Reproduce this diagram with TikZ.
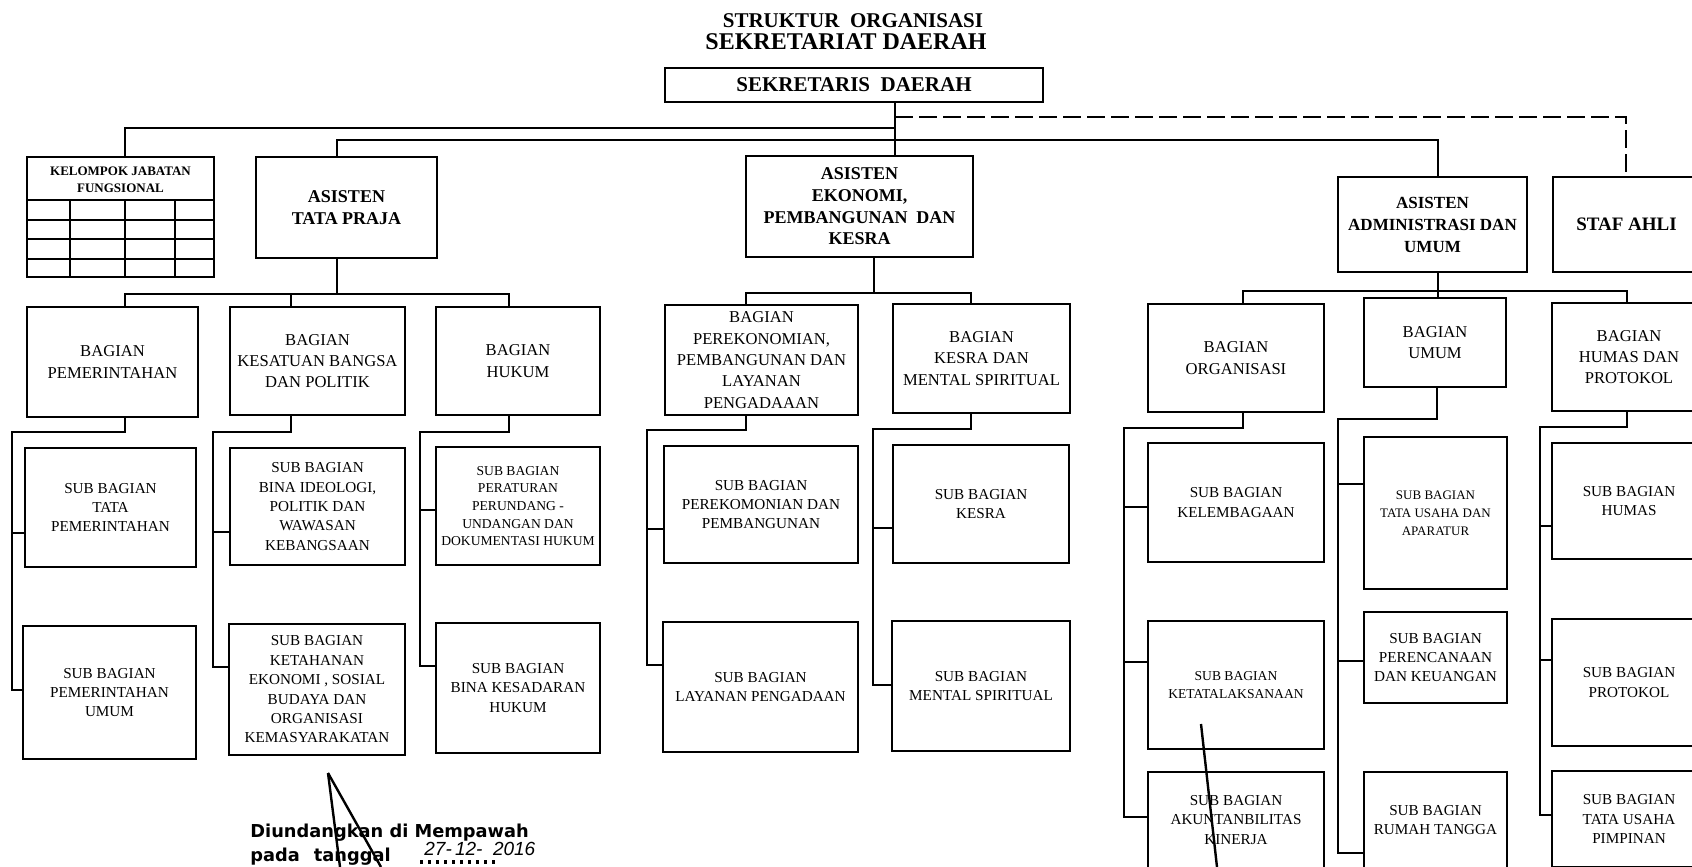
\documentclass[tikz,border=0pt]{standalone}
\usepackage{fontspec}
\setmainfont{Liberation Serif}
\newfontfamily\annfont{DejaVu Sans}
\newfontfamily\handfont{Liberation Sans}
\tikzset{
 ln/.style={line width=1.1pt},
 bx/.style={draw, line width=1.1pt, inner sep=0pt, outer sep=0pt, align=center},
 ast/.style={bx, font=\bfseries\fontsize{9}{10.8}\selectfont},
 bag/.style={bx, font=\fontsize{8.3}{10.7}\selectfont},
 sub/.style={bx, font=\fontsize{7.6}{9.7}\selectfont},
 subs/.style={bx, font=\fontsize{6.8}{8.8}\selectfont},
 ttl/.style={inner sep=0pt, font=\bfseries},
 ann/.style={inner sep=0pt, font=\annfont\bfseries\fontsize{8.9}{10}\selectfont},
 pen/.style={line width=1.2pt},
}
\newcommand\mybox[7]{\node[#6, minimum width=#4*0.5pt, minimum height=#5*0.5pt] (#1) at (#2,#3) {#7};}
\begin{document}
\begin{tikzpicture}[x=0.5pt,y=-0.5pt]
\useasboundingbox (0,0) rectangle (1692,867);
\fill[white] (0,0) rectangle (1692,867);

% titles
\node[ttl, font=\bfseries\fontsize{10.5}{12}\selectfont] (t1) at (853,21) {STRUKTUR\ \ ORGANISASI};
\node[ttl, font=\bfseries\fontsize{12}{14}\selectfont] (t2) at (846,42) {SEKRETARIAT DAERAH};

% top level
\mybox{sekda}{854}{85}{378}{34}{bx, font=\bfseries\fontsize{10.5}{12}\selectfont}{SEKRETARIS\ \ DAERAH}
\mybox{kjf}{120.5}{217}{187}{120}{bx}{}
\node[inner sep=0pt, align=center, font=\bfseries\fontsize{6.5}{8.5}\selectfont] (kjfT) at (120.5,180) {KELOMPOK JABATAN\\FUNGSIONAL};
\mybox{tp}{346.5}{207.5}{181}{101}{ast}{ASISTEN\\TATA PRAJA}
\mybox{eko}{859.5}{206.5}{227}{101}{ast}{ASISTEN\\EKONOMI,\\PEMBANGUNAN\ \ DAN\\KESRA}
\mybox{adm}{1432.5}{224.5}{189}{95}{bx, font=\bfseries\fontsize{8.5}{11}\selectfont}{ASISTEN\\ADMINISTRASI DAN\\UMUM}
\mybox{staf}{1626.5}{224.5}{147}{95}{bx, font=\bfseries\fontsize{9.5}{11}\selectfont}{STAF AHLI}

% kelompok grid
\draw[ln] (kjf.west |- 0,200) -- (kjf.east |- 0,200);
\draw[ln] (kjf.west |- 0,220) -- (kjf.east |- 0,220);
\draw[ln] (kjf.west |- 0,239) -- (kjf.east |- 0,239);
\draw[ln] (kjf.west |- 0,259) -- (kjf.east |- 0,259);
\draw[ln] (70,200) -- (70,0 |- kjf.south);
\draw[ln] (125,200) -- (125,0 |- kjf.south);
\draw[ln] (175,200) -- (175,0 |- kjf.south);

% bagian row
\mybox{bpem}{112.5}{362}{171}{110}{bag}{BAGIAN\\PEMERINTAHAN}
\mybox{bkes}{317.5}{361}{175}{108}{bag}{BAGIAN\\KESATUAN BANGSA\\DAN POLITIK}
\mybox{bhuk}{518}{361}{164}{108}{bag}{BAGIAN\\HUKUM}
\mybox{bper}{761.5}{360}{193}{110}{bag}{BAGIAN\\PEREKONOMIAN,\\PEMBANGUNAN DAN\\LAYANAN\\PENGADAAAN}
\mybox{bkesra}{981.5}{358.5}{177}{109}{bag}{BAGIAN\\KESRA DAN\\MENTAL SPIRITUAL}
\mybox{borg}{1236}{358}{176}{108}{bag}{BAGIAN\\ORGANISASI}
\mybox{bumum}{1435}{342.5}{142}{89}{bag}{BAGIAN\\UMUM}
\mybox{bhumas}{1629}{357}{154}{108}{bag}{BAGIAN\\HUMAS DAN\\PROTOKOL}

% sub bagian
\mybox{s1a}{110.5}{507.5}{171}{119}{sub}{SUB BAGIAN\\TATA\\PEMERINTAHAN}
\mybox{s1b}{109.5}{692.5}{173}{133}{sub}{SUB BAGIAN\\PEMERINTAHAN\\UMUM}
\mybox{s2a}{317.5}{506.5}{175}{117}{sub}{SUB BAGIAN\\BINA IDEOLOGI,\\POLITIK DAN\\WAWASAN\\KEBANGSAAN}
\mybox{s2b}{317}{689.5}{176}{131}{sub}{SUB BAGIAN\\KETAHANAN\\EKONOMI , SOSIAL\\BUDAYA DAN\\ORGANISASI\\KEMASYARAKATAN}
\mybox{s3a}{518}{506}{164}{118}{subs}{SUB BAGIAN\\PERATURAN\\PERUNDANG -\\UNDANGAN DAN\\DOKUMENTASI HUKUM}
\mybox{s3b}{518}{688}{164}{130}{sub}{SUB BAGIAN\\BINA KESADARAN\\HUKUM}
\mybox{s4a}{761}{504.5}{194}{117}{sub}{SUB BAGIAN\\PEREKOMONIAN DAN\\PEMBANGUNAN}
\mybox{s4b}{760.5}{687}{195}{130}{sub}{SUB BAGIAN\\LAYANAN PENGADAAN}
\mybox{s5a}{981}{504}{176}{118}{sub}{SUB BAGIAN\\KESRA}
\mybox{s5b}{981}{686}{178}{130}{sub}{SUB BAGIAN\\MENTAL SPIRITUAL}
\mybox{s6a}{1236}{502.5}{176}{119}{sub}{SUB BAGIAN\\KELEMBAGAAN}
\mybox{s6b}{1236}{685}{176}{128}{subs}{SUB BAGIAN\\KETATALAKSANAAN}
\mybox{s6c}{1236}{820}{176}{96}{sub}{SUB BAGIAN\\AKUNTANBILITAS\\KINERJA}
\mybox{s7a}{1435.5}{513}{143}{152}{bx, font=\fontsize{6.5}{9}\selectfont}{SUB BAGIAN\\TATA USAHA DAN\\APARATUR}
\mybox{s7b}{1435.5}{657.5}{143}{91}{sub}{SUB BAGIAN\\PERENCANAAN\\DAN KEUANGAN}
\mybox{s7c}{1435.5}{820}{143}{96}{sub}{SUB BAGIAN\\RUMAH TANGGA}
\mybox{s8a}{1629}{501}{154}{116}{sub}{SUB BAGIAN\\HUMAS}
\mybox{s8b}{1629}{682.5}{154}{127}{sub}{SUB BAGIAN\\PROTOKOL}
\mybox{s8c}{1629}{819}{154}{96}{sub}{SUB BAGIAN\\TATA USAHA\\PIMPINAN}

% top connectors
\draw[ln] (895,0 |- sekda.south) -- (895,0 |- eko.north);
\draw[ln] (895,128) -- (125,128) -- (125,0 |- kjf.north);
\draw[ln] (337,0 |- tp.north) |- (1438,140) -- (1438,0 |- adm.north);
\draw[ln, dash pattern=on 9pt off 3pt] (895,117) -| (1626,0 |- staf.north);

% asisten -> bagian
\draw[ln] (337,0 |- tp.south) -- (337,294);
\draw[ln] (125,0 |- bpem.north) |- (509,294) -- (509,0 |- bhuk.north);
\draw[ln] (291,294) -- (291,0 |- bkes.north);
\draw[ln] (874,0 |- eko.south) -- (874,293);
\draw[ln] (746,0 |- bper.north) |- (971,293) -- (971,0 |- bkesra.north);
\draw[ln] (1438,0 |- adm.south) -- (1438,0 |- bumum.north);
\draw[ln] (1243,0 |- borg.north) |- (1627,291) -- (1627,0 |- bhumas.north);

% bagian -> sub bagian
\draw[ln] (125,0 |- bpem.south) |- (12,432) |- (s1b.west |- 0,690);
\draw[ln] (12,533) -- (s1a.west |- 0,533);
\draw[ln] (291,0 |- bkes.south) |- (213,432) |- (s2b.west |- 0,667);
\draw[ln] (213,532) -- (s2a.west |- 0,532);
\draw[ln] (509,0 |- bhuk.south) |- (420,432) |- (s3b.west |- 0,666);
\draw[ln] (420,510) -- (s3a.west |- 0,510);
\draw[ln] (746,0 |- bper.south) |- (647,430) |- (s4b.west |- 0,665);
\draw[ln] (647,529) -- (s4a.west |- 0,529);
\draw[ln] (971,0 |- bkesra.south) |- (873,429) |- (s5b.west |- 0,685);
\draw[ln] (873,528) -- (s5a.west |- 0,528);
\draw[ln] (1243,0 |- borg.south) |- (1124,428) |- (s6c.west |- 0,817);
\draw[ln] (1124,507) -- (s6a.west |- 0,507);
\draw[ln] (1124,662) -- (s6b.west |- 0,662);
\draw[ln] (1437,0 |- bumum.south) |- (1338,419) |- (s7c.west |- 0,853);
\draw[ln] (1338,484) -- (s7a.west |- 0,484);
\draw[ln] (1338,661) -- (s7b.west |- 0,661);
\draw[ln] (1627,0 |- bhumas.south) |- (1540,427) |- (s8c.west |- 0,815);
\draw[ln] (1540,526) -- (s8a.west |- 0,526);
\draw[ln] (1540,660) -- (s8b.west |- 0,660);

% annotation
\node[ann, anchor=base west] (d1) at (250,837) {Diundangkan di Mempawah};
\node[ann, anchor=base west] (d2) at (250,861) {pada\hspace{7pt}tanggal};
\coordinate (dotA) at (420,862);
\coordinate (dotB) at (500,862);
\draw[line width=1.6pt, dash pattern=on 1.5pt off 2.5pt] (dotA) -- (dotB);
\node[inner sep=0pt, anchor=base west, font=\handfont\itshape\fontsize{9.5}{10}\selectfont] (d3) at (424,855) {27-\,12-\ \ 2016};
\coordinate (apex) at (328,773);
\draw[pen] (apex) -- (340,867);
\draw[pen] (apex) -- (381,867);
\draw[pen] (1201,724) -- (1217,867);
\end{tikzpicture}
\end{document}
